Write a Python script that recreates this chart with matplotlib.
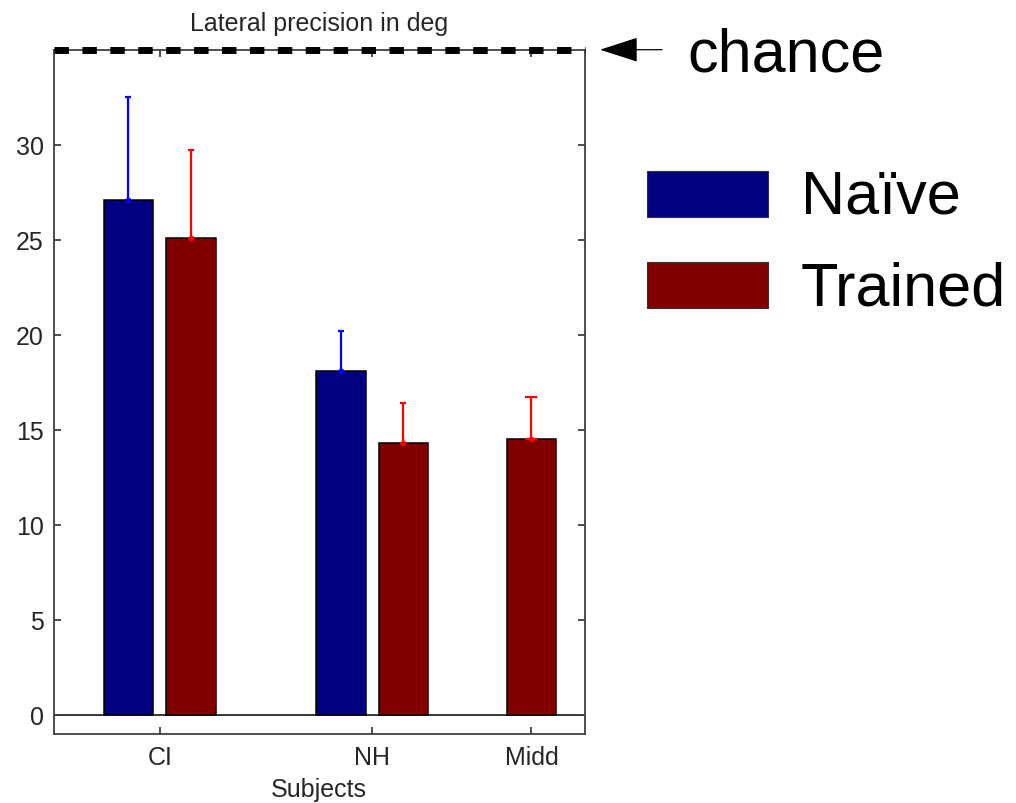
import numpy as np
import matplotlib
matplotlib.use('Agg')
import matplotlib.pyplot as plt
from matplotlib.patches import Rectangle

plt.rcParams['font.family'] = ['Liberation Sans', 'DejaVu Sans']

# lateral precision (deg), mean and upper error per subject group
subjects = ['CI', 'NH', 'Midd']
subject_pos = [1.0, 2.0, 2.75]
naive_mean = [27.1, 18.1, np.nan]
naive_err = [5.4, 2.1, np.nan]
trained_mean = [25.1, 14.3, 14.5]
trained_err = [4.6, 2.1, 2.2]
chance_level = 35
series_names = ['Naïve', 'Trained']

naive_col = '#000080'
trained_col = '#800000'
spine_col = '#404040'
text_col = '#262626'

W, H = 1016, 804
fig = plt.figure(figsize=(W / 100, H / 100), dpi=100)
ax = fig.add_axes([53.5 / W, 1 - 734.5 / H, 531 / W, 683.8 / H])

x = np.array(subject_pos)
nm = np.array(naive_mean)
tm = np.array(trained_mean)
paired = ~np.isnan(nm)
off = 0.147
width = 0.233
naive_x = x - off * paired
trained_x = x + off * paired

ax.bar(naive_x[paired], nm[paired], width, color=naive_col,
       edgecolor='black', linewidth=1.1, zorder=2)
ax.bar(trained_x, tm, width, color=trained_col,
       edgecolor='black', linewidth=1.1, zorder=2)

# one-sided error bars, from the top of each bar upward
for i in range(len(subjects)):
    cs = 2 if paired[i] else 4.5
    if paired[i]:
        ax.errorbar(naive_x[i], nm[i], yerr=[[0], [naive_err[i]]], fmt='.',
                    color='#0000ff', ms=6, lw=1.6, capsize=cs, capthick=1.6,
                    zorder=3)
    ax.errorbar(trained_x[i], tm[i], yerr=[[0], [trained_err[i]]], fmt='.',
                color='#ff0000', ms=6, lw=1.6, capsize=cs, capthick=1.6,
                zorder=3)

ax.axhline(0, color='black', lw=1.1, zorder=1)

ax.set_xlim(0.5, 3.0)
ax.set_ylim(-1, 35)
ax.set_xticks(x)
ax.set_xticklabels(subjects)
ax.set_yticks(np.arange(0, 31, 5))

# chance level drawn along the top of the box
ax.plot([0.5, 3.0], [chance_level, chance_level], color='black', lw=5,
        linestyle=(0, (2.08, 1.94)), solid_capstyle='butt',
        clip_on=False, zorder=5)

for s in ax.spines.values():
    s.set_color(spine_col)
    s.set_linewidth(1.3)
ax.tick_params(axis='both', direction='in', length=5, width=1.3,
               color=spine_col, labelcolor=text_col, labelsize=18,
               top=True, right=True)
ax.tick_params(axis='y', pad=7)
ax.tick_params(axis='x', pad=8)

ax.set_title('Lateral precision in deg', fontsize=18, color=text_col, pad=14)
ax.set_xlabel('Subjects', fontsize=18, color=text_col, labelpad=6)

# arrow and label for the chance line
ax.annotate('', xy=(600 / W, 1 - 50.7 / H), xytext=(662 / W, 1 - 50.7 / H),
            xycoords='figure fraction', textcoords='figure fraction',
            arrowprops=dict(arrowstyle='-|>,head_length=2.45,head_width=0.79',
                            mutation_scale=10, color='black', lw=0.9,
                            shrinkA=0, shrinkB=0))
fig.text(687 / W, 1 - 71.7 / H, 'chance', fontsize=44, color='black',
         ha='left', va='baseline')

# legend boxes beside the axes
for name, col, top, base in zip(series_names, [naive_col, trained_col],
                                [172, 263], [213, 305]):
    fig.patches.append(Rectangle((647 / W, 1 - (top + 46) / H), 121 / W,
                                 46 / H, transform=fig.transFigure,
                                 facecolor=col, edgecolor='#333333', lw=0.8))
    fig.text(801 / W, 1 - base / H, name, fontsize=44, color='black',
             ha='left', va='baseline')

fig.savefig('out.png', dpi=100)
